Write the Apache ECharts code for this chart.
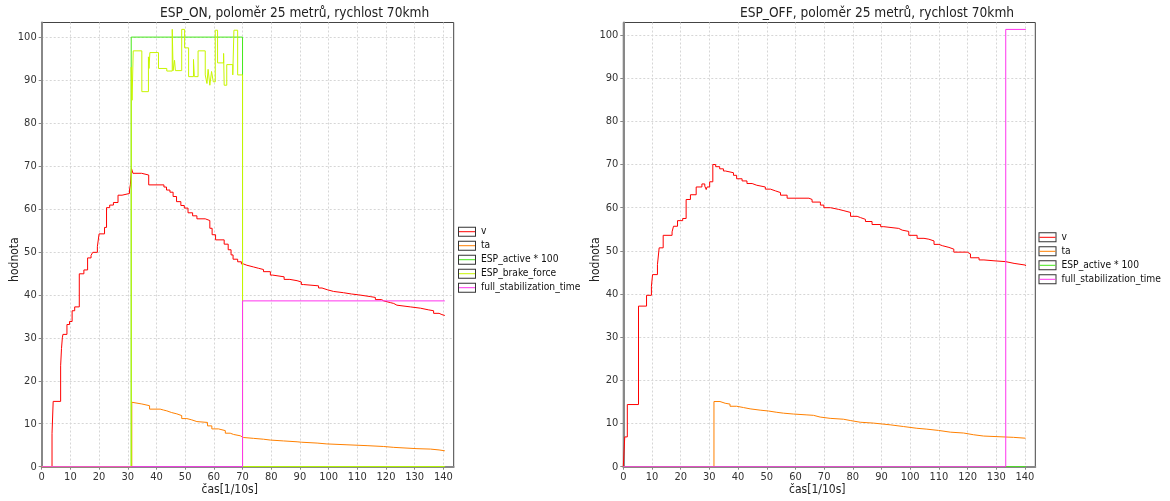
<!DOCTYPE html>
<html>
<head>
<meta charset="utf-8">
<script src="https://cdn.jsdelivr.net/npm/echarts@6/dist/echarts.min.js"></script>
<style>
html,body{margin:0;padding:0;background:#fff;}
#chart{width:1170px;height:501px;}
</style>
</head>
<body>
<div id="chart"></div>
<script>
// ---------- DATA (time in 1/10 s, value held until next time) ----------
const titles = ['ESP_ON, poloměr 25 metrů, rychlost 70kmh', 'ESP_OFF, poloměr 25 metrů, rychlost 70kmh'];
const xName = 'čas[1/10s]';
const yName = 'hodnota';
const legendOn = ['v', 'ta', 'ESP_active * 100', 'ESP_brake_force', 'full_stabilization_time'];
const legendOff = ['v', 'ta', 'ESP_active * 100', 'full_stabilization_time'];

// ESP_ON
const vOnT = [0,3.6,4.0,6.6,6.9,7.2,7.4,8.8,9.7,10.6,11.5,13.1,14.7,16.0,17.2,17.8,19.4,20.0,21.9,22.6,23.7,25.0,26.6,28.0,30.6,30.9,31.3,31.8,34.8,37.3,42.6,43.5,44.7,45.8,47.0,48.5,49.7,51.0,52.6,54.1,57.0,58.6,59.4,60.6,63.6,65.0,66.0,66.7,68.3,69.6,70.3,71.5,73.8,75.5,77.3,79.7,80.5,84.5,86.5,89.0,90.5,91.3,96.5,97.7,99.5,101.7,105.2,108.0,110.5,114.5,116.3,118.5,119.2,121.5,122.7,123.8,128.5,132.0,134.9,136.6,138.5,139.5,140.5];
const vOnV = [0,7.7,15.2,23.5,27.5,30.0,30.8,33.1,33.8,36.3,37.2,44.9,45.8,48.6,49.2,49.9,51.2,54.2,55.7,60.3,60.9,61.5,63.2,63.6,64.4,65.6,69.4,68.3,67.9,65.6,65.1,64.4,63.9,62.9,61.7,60.8,60.2,59.1,58.4,57.7,57.3,55.5,54.0,52.8,51.8,50.5,49.3,48.3,47.7,47.2,46.9,46.5,46.2,45.9,45.4,44.6,44.2,43.6,43.3,43.0,42.4,42.1,41.6,41.2,40.8,40.5,40.2,40.0,39.6,39.4,38.9,38.6,38.2,38.0,37.6,37.2,36.9,36.5,36.3,35.7,35.4,35.2,35.1];
const taOnT = [0,31.4,31.9,34.9,37.6,41.3,42.4,43.6,45.3,47.1,48.8,50.6,52.3,54.1,57.8,59.3,61.6,64.0,65.7,66.9,69.2,70.3,73.8,77.3,79.7,84.3,89.0,90.5,96.0,99.4,106.4,113.4,119.2,122.7,130.8,135.5,138.5,140.5];
const taOnV = [0,15.0,14.6,14.2,13.4,13.2,13.0,12.6,12.3,11.9,11.2,10.9,10.5,10.3,9.5,8.8,8.4,7.8,7.5,7.2,6.8,6.6,6.4,6.2,6.0,5.8,5.7,5.5,5.3,5.1,4.9,4.7,4.5,4.2,4.1,3.9,3.7,3.6];
const espOnT = [0,31.2,70.0,140.5];
const espOnV = [0,100,0,0];
const brakeOnT = [0,31.2,31.5,31.9,34.9,37.2,37.4,37.7,40.7,43.6,45.5,45.8,46.3,46.6,48.8,49.8,51.2,52.9,53.2,54.5,57.0,57.6,58.0,58.6,59.2,59.8,60.5,61.3,63.4,63.6,64.5,66.6,67.0,68.3,70.0,140.5];
const brakeOnV = [0,93.0,85.3,96.8,87.3,95.4,92.7,96.4,92.7,92.1,101.8,92.2,94.6,92.2,101.8,97.5,90.8,94.8,90.8,96.8,91.2,89.2,92.5,88.8,92.0,89.6,101.6,94.0,96.2,88.8,93.6,91.2,101.6,91.2,0,0];
const fullOnT = [0,70.0,140.5];
const fullOnV = [0,38.6,38.6];

// ESP_OFF
const vOffT = [0,0.5,1.4,5.3,8.1,9.8,10.2,11.9,12.5,13.9,17.0,17.5,18.9,20.7,21.9,23.4,25.4,27.4,28.4,28.9,29.2,30.1,31.2,32.2,33.6,34.9,35.6,38.4,39.5,41.4,43.1,44.9,46.5,49.5,51.3,53.0,54.8,57.1,64.7,65.8,68.7,69.9,72.2,75.1,76.9,79.2,81.5,82.7,84.4,86.7,89.7,90.8,96.0,97.2,99.5,102.4,104.8,106.5,108.3,110.0,111.2,113.5,115.2,119.9,121.0,124.0,125.7,129.2,133.3,136.2,140.2];
const vOffV = [0,6.9,14.4,37.2,39.7,41.8,44.5,46.8,50.7,53.6,54.4,55.7,57.0,57.5,61.9,63.0,64.8,65.5,65.0,64.2,64.8,66.0,70.0,69.5,69.0,68.5,68.1,67.5,66.7,66.2,65.6,65.2,64.8,64.3,63.9,63.5,62.9,62.2,61.9,61.3,60.6,60.0,59.6,59.3,58.9,58.0,57.7,57.3,56.8,56.1,55.6,55.2,54.8,54.5,53.6,52.9,52.7,52.3,51.5,51.2,50.8,50.4,49.7,49.3,48.4,47.9,47.7,47.5,47.1,46.7,46.5];
const taOffT = [0,31.6,33.7,35.5,37.2,39.5,41.9,44.2,47.7,50.6,53.5,55.8,59.3,64.0,66.3,68.6,72.1,76.7,79.1,82.6,87.2,93.0,97.7,102.3,105.8,109.9,114.0,118.6,122.1,125.6,136.0,140.2];
const taOffV = [0,15.1,14.7,14.5,14.0,13.7,13.4,13.1,12.9,12.6,12.4,12.2,12.0,11.9,11.5,11.2,11.0,10.7,10.3,10.1,9.7,9.3,8.9,8.7,8.4,8.0,7.8,7.4,7.1,6.8,6.6,6.6];
const espOffT = [0,140.3];
const espOffV = [0,0];
const fullOffT = [0,133.3,140.3];
const fullOffV = [0,101.3,101.3];

const xTicks = [0,10,20,30,40,50,60,70,80,90,100,110,120,130,140];
const yTicks = [0,10,20,30,40,50,60,70,80,90,100];

// ---------- CHART ----------
const FONT = '"DejaVu Sans Condensed", "Liberation Sans", sans-serif';
const COLORS = {
  'v': '#ff0000',
  'ta': '#ff8000',
  'ESP_active * 100': '#44e818',
  'ESP_brake_force': '#c8f500',
  'full_stabilization_time': '#ff33ee'
};
const zip = (t, v) => t.map((x, i) => [x, v[i]]);

function mkSeries(name, t, v, gi) {
  return {
    type: 'line', name: name, xAxisIndex: gi, yAxisIndex: gi,
    data: zip(t, v), step: 'end', showSymbol: false, symbol: 'none',
    lineStyle: { width: 1, color: COLORS[name] }, itemStyle: { color: COLORS[name] },
    animation: false, emphasis: { disabled: true }
  };
}

const grids = [
  { left: 41.7, top: 22.5, width: 412, height: 444.2 },
  { left: 623.3, top: 22.5, width: 412, height: 444.2 }
];
const yMax = [103.4, 102.9];
const xShift = [36, 24];

function mkX(gi) {
  return {
    gridIndex: gi, type: 'value', min: 0, max: 143.6, interval: 10,
    name: xName, nameLocation: 'middle', nameGap: 17, nameMoveOverlap: false,
    nameTextStyle: { fontFamily: FONT, fontSize: 12, color: '#222', padding: [0, xShift[gi], 0, 0] },
    axisLine: { show: true, lineStyle: { color: '#888', width: 2 } },
    axisTick: { show: true, length: 3, lineStyle: { color: '#888' } },
    axisLabel: { fontFamily: FONT, fontSize: 11, color: '#333', margin: 5, showMaxLabel: false, showMinLabel: true,
      formatter: (val) => xTicks.indexOf(val) >= 0 ? String(val) : '' },
    splitLine: { show: true, showMinLine: false, showMaxLine: false, lineStyle: { color: '#d6d6d6', type: [2, 2] } }
  };
}
function mkY(gi) {
  return {
    gridIndex: gi, type: 'value', min: 0, max: yMax[gi], interval: 10,
    name: yName, nameLocation: 'middle', nameGap: 21, nameRotate: 90, nameMoveOverlap: false,
    nameTextStyle: { fontFamily: FONT, fontSize: 12, color: '#222', padding: [0, 30, 0, 0] },
    axisLine: { show: true, lineStyle: { color: '#888', width: 2 } },
    axisTick: { show: true, length: 3, lineStyle: { color: '#888' } },
    axisLabel: { fontFamily: FONT, fontSize: 11, color: '#333', margin: 5, showMaxLabel: false, showMinLabel: true,
      formatter: (val) => yTicks.indexOf(val) >= 0 ? String(val) : '' },
    splitLine: { show: true, showMinLine: false, showMaxLine: false, lineStyle: { color: '#d6d6d6', type: [2, 2] } }
  };
}

const ringIcon = 'path://M0,0H18V10H0Z M1,1V9H17V1Z';
const lineIcon = 'path://M0,0M18,10M1,4.5H17V5.5H1Z';
function mkLegends(names, left, top) {
  const base = {
    orient: 'vertical', left: left, top: top, padding: 0, itemGap: 0,
    itemWidth: 18, itemHeight: 10, data: names, selectedMode: false,
    textStyle: { fontFamily: FONT, fontSize: 10.2, color: '#111', lineHeight: 14 }
  };
  return [
    Object.assign({}, base, { icon: ringIcon, itemStyle: { color: '#333', borderWidth: 0 } }),
    Object.assign({}, base, { icon: lineIcon, itemStyle: { borderWidth: 0 },
      textStyle: { fontFamily: FONT, fontSize: 10.2, color: 'rgba(0,0,0,0)', lineHeight: 14 } })
  ];
}

const TITLE_STYLE = { fontFamily: FONT, fontSize: 13.6, fontWeight: 'normal', color: '#222' };
const option = {
  backgroundColor: '#fff',
  animation: false,
  title: [
    { text: titles[0], left: 160, top: 6, padding: 0, textStyle: TITLE_STYLE },
    { text: titles[1], left: 740, top: 6, padding: 0, textStyle: TITLE_STYLE }
  ],
  grid: grids.map(g => Object.assign({ show: true, borderColor: '#444', borderWidth: 1, backgroundColor: 'transparent', containLabel: false, outerBoundsMode: 'none' }, g)),
  xAxis: [mkX(0), mkX(1)],
  yAxis: [mkY(0), mkY(1)],
  legend: mkLegends(legendOn, 458, 224.7).concat(mkLegends(legendOff, 1038.5, 230.3)),
  series: [
    mkSeries('v', vOnT, vOnV, 0),
    mkSeries('ta', taOnT, taOnV, 0),
    mkSeries('ESP_active * 100', espOnT, espOnV, 0),
    mkSeries('ESP_brake_force', brakeOnT, brakeOnV, 0),
    mkSeries('full_stabilization_time', fullOnT, fullOnV, 0),
    mkSeries('v', vOffT, vOffV, 1),
    mkSeries('ta', taOffT, taOffV, 1),
    mkSeries('ESP_active * 100', espOffT, espOffV, 1),
    mkSeries('full_stabilization_time', fullOffT, fullOffV, 1)
  ]
};

const chart = echarts.init(document.getElementById('chart'), null, { renderer: 'canvas' });
chart.setOption(option);
</script>
</body>
</html>
